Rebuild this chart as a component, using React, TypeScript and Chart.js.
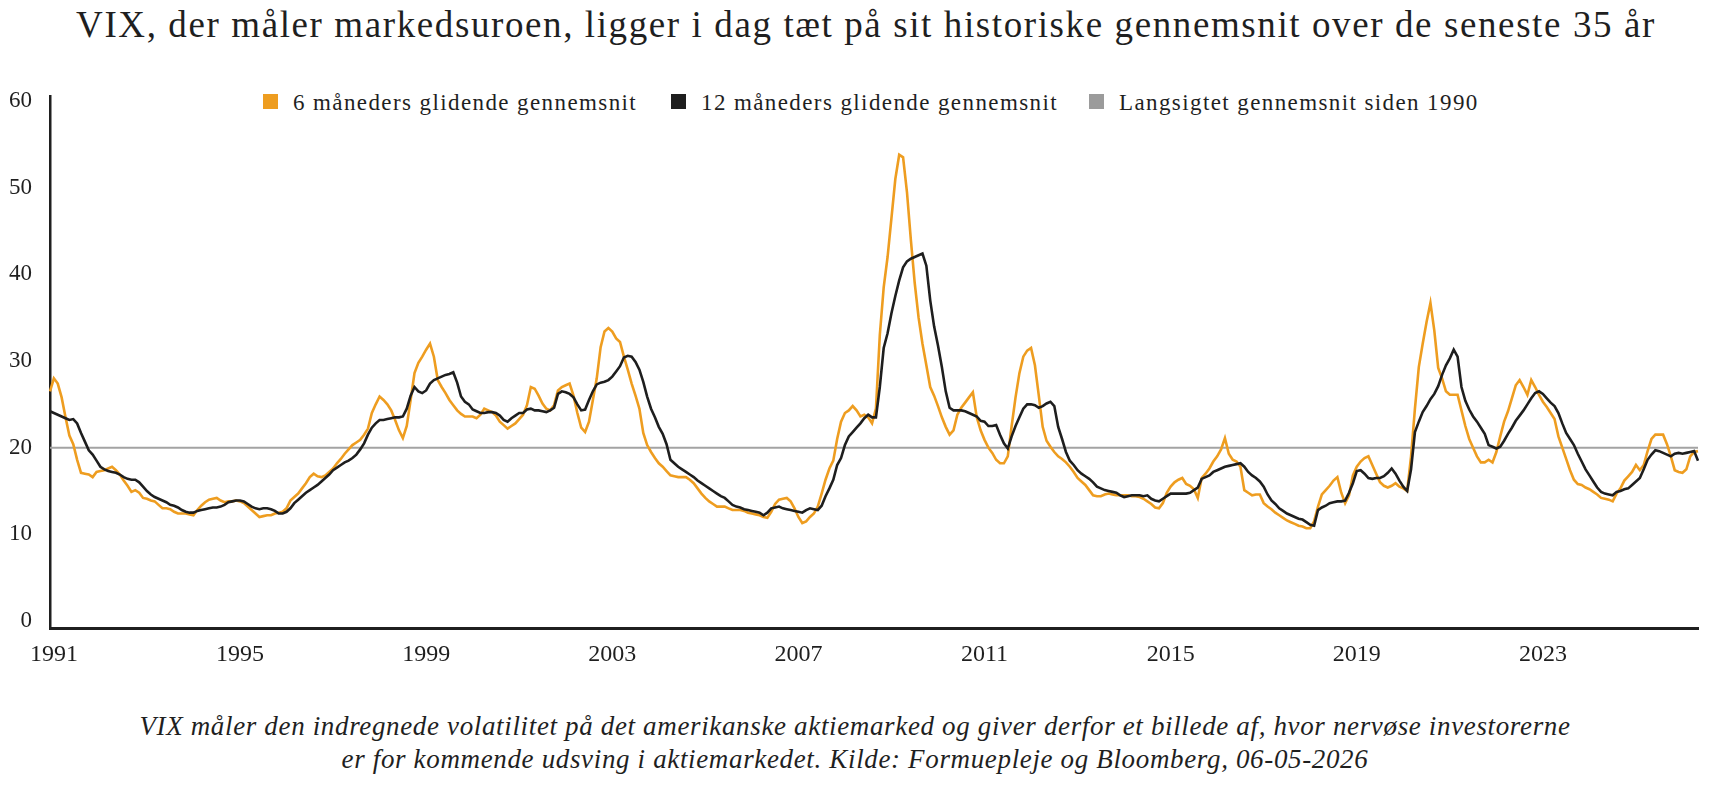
import React, { useEffect, useRef } from 'react';
import { Chart, registerables } from 'chart.js';

Chart.register(...registerables);

// Monthly observations, first point = December 1990, last = May 2026
const START_YEAR = 1990;
const START_MONTH = 12;

// 6 måneders glidende gennemsnit
const vix6: number[] = [
  26.5, 28.0, 27.4, 25.8, 23.5, 21.4, 20.4, 18.6, 17.1, 17.0, 16.9, 16.6,
  17.2, 17.3, 17.4, 17.6, 17.8, 17.4, 16.9, 16.2, 15.6, 14.9, 15.1, 14.8,
  14.2, 14.1, 13.9, 13.8, 13.4, 13.0, 13.0, 12.9, 12.6, 12.4, 12.4, 12.4,
  12.3, 12.2, 12.8, 13.3, 13.7, 14.0, 14.1, 14.2, 13.9, 13.7, 13.8, 13.8,
  13.9, 13.8, 13.6, 13.2, 12.8, 12.4, 12.0, 12.1, 12.2, 12.2, 12.4, 12.5,
  12.6, 13.0, 13.9, 14.3, 14.7, 15.3, 15.9, 16.6, 17.0, 16.7, 16.6, 16.8,
  17.2, 17.6, 18.2, 18.7, 19.3, 19.8, 20.3, 20.6, 20.9, 21.5, 22.2, 24.0,
  25.0, 25.9, 25.5, 25.0, 24.3, 23.2, 22.0, 21.1, 22.5, 25.5, 28.6, 29.8,
  30.5, 31.3, 32.0, 30.5, 27.8, 27.0, 26.3, 25.5, 24.9, 24.3, 23.9, 23.6,
  23.6, 23.6, 23.4, 23.8, 24.5, 24.3, 24.1, 23.7, 23.0, 22.6, 22.2, 22.5,
  22.8, 23.3, 23.8, 24.9, 27.0, 26.8, 26.0, 25.1, 24.5, 24.3, 24.9, 26.6,
  27.0, 27.2, 27.4, 26.0, 24.0, 22.3, 21.8, 23.0, 25.5, 28.0, 31.6, 33.4,
  33.8, 33.4, 32.6, 32.2, 30.5, 29.0, 27.4, 26.0, 24.5, 21.7, 20.3, 19.5,
  18.8, 18.2, 17.8, 17.3, 16.8, 16.7, 16.6, 16.6, 16.6, 16.3, 15.9, 15.3,
  14.7, 14.2, 13.8, 13.5, 13.2, 13.2, 13.2, 13.0, 12.8, 12.8, 12.8, 12.7,
  12.5, 12.4, 12.3, 12.2, 12.0, 11.9, 12.6, 13.5, 14.0, 14.1, 14.2, 13.8,
  13.0, 12.0, 11.3, 11.5, 12.0, 12.4, 13.2, 14.7, 16.3, 17.6, 18.5, 21.0,
  23.0, 24.0, 24.3, 24.8, 24.3, 23.6, 23.8, 23.5, 22.8, 24.5, 33.0, 38.5,
  42.0, 46.5, 51.0, 53.8, 53.5, 49.5, 44.0, 39.0, 35.0, 32.0, 29.5, 27.0,
  26.0, 24.8, 23.5, 22.4, 21.5, 22.0, 23.8, 24.6, 25.2, 25.8, 26.4, 23.5,
  22.0, 20.9, 20.0, 19.4, 18.6, 18.2, 18.2, 19.0, 22.5, 25.8, 28.6, 30.5,
  31.2, 31.5, 29.5, 26.0, 22.4, 20.8, 20.1, 19.5, 19.0, 18.7, 18.3, 17.8,
  17.2, 16.5, 16.1, 15.7, 15.1, 14.5, 14.4, 14.4, 14.6, 14.7, 14.6, 14.5,
  14.5, 14.5, 14.5, 14.4, 14.4, 14.3, 14.1, 13.8, 13.5, 13.1, 13.0, 13.6,
  14.8, 15.5, 16.0, 16.3, 16.5, 15.8, 15.6, 15.2, 14.2, 16.5, 17.0, 17.6,
  18.4, 19.0, 19.8, 21.1, 19.3, 18.6, 18.4, 17.8, 15.1, 14.8, 14.5, 14.6,
  14.6, 13.6, 13.2, 12.9, 12.5, 12.2, 11.9, 11.6, 11.4, 11.2, 11.0, 10.9,
  10.7, 10.7, 11.5, 13.2, 14.6, 15.1, 15.6, 16.2, 16.6, 14.8, 13.6, 14.5,
  16.8, 17.8, 18.4, 18.8, 19.0, 18.0, 17.0, 16.0, 15.6, 15.4, 15.6, 15.9,
  15.5, 15.3, 15.0, 19.0, 24.5, 29.3, 32.0, 34.5, 36.7, 33.5, 29.2, 28.0,
  26.5, 26.1, 26.1, 26.1, 24.3, 22.5, 21.0, 20.0, 19.0, 18.3, 18.3, 18.6,
  18.3, 19.5, 21.3, 23.0, 24.2, 25.7, 27.2, 27.8, 27.0, 26.1, 27.8, 27.0,
  26.1, 25.3, 24.7, 24.0, 23.3, 21.3, 20.0, 18.7, 17.4, 16.3, 15.8, 15.7,
  15.4, 15.2, 14.9, 14.6, 14.2, 14.1, 14.0, 13.8, 14.7, 15.3, 16.2, 16.7,
  17.2, 18.0, 17.4, 18.0, 19.6, 21.0, 21.5, 21.5, 21.5, 20.4, 19.0, 17.4,
  17.2, 17.1, 17.5, 19.0, 19.5, 19.6,
];

// 12 måneders glidende gennemsnit
const vix12: number[] = [
  24.2, 24.0, 23.8, 23.6, 23.4, 23.2, 23.3, 22.8, 21.7, 20.7, 19.7, 19.2,
  18.5, 17.8, 17.5, 17.3, 17.2, 17.1, 16.9, 16.6, 16.4, 16.3, 16.3, 16.0,
  15.5, 15.0, 14.6, 14.3, 14.1, 13.9, 13.7, 13.4, 13.3, 13.1, 12.8, 12.6,
  12.5, 12.5, 12.7, 12.8, 12.9, 13.0, 13.1, 13.1, 13.2, 13.4, 13.7, 13.8,
  13.9, 13.9, 13.8, 13.5, 13.2, 13.0, 12.9, 13.0, 13.0, 12.9, 12.7, 12.4,
  12.4, 12.6, 13.0, 13.6, 14.0, 14.4, 14.8, 15.1, 15.4, 15.7, 16.1, 16.5,
  16.9, 17.4, 17.7, 18.0, 18.3, 18.5, 18.8, 19.2, 19.8, 20.5, 21.5, 22.3,
  22.8, 23.2, 23.2, 23.3, 23.4, 23.5, 23.5, 23.6, 24.5, 26.0, 27.0, 26.5,
  26.3, 26.6, 27.4, 27.8, 28.0, 28.2, 28.4, 28.5, 28.7, 27.5, 25.9, 25.3,
  25.0, 24.4, 24.2, 24.0, 24.0, 24.1, 24.1, 24.0, 23.7, 23.2, 23.0, 23.4,
  23.7, 24.0, 24.0, 24.4, 24.5, 24.3, 24.3, 24.2, 24.1, 24.3, 24.6, 26.2,
  26.5, 26.4, 26.2, 25.8, 25.0, 24.3, 24.4, 25.5, 26.5, 27.3, 27.5, 27.6,
  27.8, 28.2, 28.8, 29.4, 30.4, 30.6, 30.5, 29.9, 29.0, 27.6, 25.9, 24.5,
  23.5, 22.4, 21.6, 20.4, 18.6, 18.2, 17.8, 17.5, 17.2, 16.9, 16.6, 16.2,
  15.9, 15.6, 15.3, 15.0, 14.7, 14.4, 14.2, 13.8, 13.4, 13.2, 13.1, 12.9,
  12.8, 12.7, 12.6, 12.5, 12.2, 12.5, 13.0, 13.1, 13.2, 13.0, 12.9, 12.8,
  12.7, 12.6, 12.5, 12.8, 13.0, 12.9, 12.8, 13.3, 14.4, 15.3, 16.3, 18.0,
  18.8, 20.3, 21.3, 21.8, 22.3, 22.8, 23.4, 23.8, 23.5, 23.5, 27.0, 31.5,
  33.2, 35.5, 37.5, 39.3, 40.8, 41.5, 41.8, 42.0, 42.2, 42.4, 41.0, 37.0,
  34.0, 31.8, 29.3, 26.5, 24.6, 24.3, 24.3, 24.3, 24.2, 24.0, 23.8, 23.6,
  23.1, 23.0, 22.5, 22.5, 22.6, 21.5, 20.5, 19.9, 21.3, 22.5, 23.5, 24.5,
  25.0, 25.0, 24.9, 24.6, 24.8, 25.1, 25.3, 24.8, 22.4, 21.0, 19.5, 18.5,
  18.0, 17.4, 17.0, 16.7, 16.4, 16.0, 15.5, 15.3, 15.1, 15.0, 14.9, 14.8,
  14.5, 14.3, 14.4, 14.5, 14.5, 14.5, 14.4, 14.5, 14.1, 13.9, 13.8, 14.1,
  14.4, 14.7, 14.7, 14.7, 14.7, 14.7, 14.8, 15.1, 15.4, 16.4, 16.6, 16.8,
  17.2, 17.4, 17.6, 17.8, 17.9, 18.0, 18.1, 18.2, 17.8, 17.2, 16.8, 16.5,
  16.1, 15.5, 14.6, 13.9, 13.5, 13.0, 12.7, 12.4, 12.2, 12.0, 11.8, 11.7,
  11.4, 11.1, 11.0, 12.8, 13.1, 13.3, 13.6, 13.7, 13.8, 13.8, 13.9, 14.8,
  15.9, 17.3, 17.4, 17.0, 16.5, 16.4, 16.5, 16.5, 16.7, 17.1, 17.6, 17.0,
  16.2, 15.5, 15.0, 17.5, 21.8, 23.0, 24.1, 24.8, 25.6, 26.2, 27.1, 28.4,
  29.5, 30.3, 31.3, 30.5, 27.0, 25.4, 24.4, 23.6, 23.0, 22.3, 21.6, 20.3,
  20.1, 19.9, 20.1, 20.8, 21.6, 22.3, 23.1, 23.7, 24.3, 25.0, 25.7, 26.3,
  26.5, 26.2, 25.7, 25.2, 24.8, 24.0, 22.8, 21.7, 21.0, 20.3, 19.3, 18.4,
  17.5, 16.8, 16.1, 15.4, 14.9, 14.7, 14.6, 14.5, 14.9, 15.0, 15.2, 15.3,
  15.7, 16.1, 16.5, 17.5, 18.6, 19.2, 19.7, 19.6, 19.4, 19.2, 19.0, 19.3,
  19.4, 19.3, 19.4, 19.5, 19.6, 18.5,
];

// Langsigtet gennemsnit siden 1990
const LONG_TERM_AVG = 20;

const seriesNames = [
  '6 måneders glidende gennemsnit',
  '12 måneders glidende gennemsnit',
  'Langsigtet gennemsnit siden 1990',
];
const yTicks = [0, 10, 20, 30, 40, 50, 60];
const xTickYears = ['1991', '1995', '1999', '2003', '2007', '2011', '2015', '2019', '2023'];

const TITLE = 'VIX, der måler markedsuroen, ligger i dag tæt på sit historiske gennemsnit over de seneste 35 år';
const CAPTION_1 = 'VIX måler den indregnede volatilitet på det amerikanske aktiemarked og giver derfor et billede af, hvor nervøse investorerne';
const CAPTION_2 = 'er for kommende udsving i aktiemarkedet. Kilde: Formuepleje og Bloomberg, 06-05-2026';

const months: string[] = vix6.map((_, i) => {
  const m = START_MONTH - 1 + i;
  const y = START_YEAR + Math.floor(m / 12);
  const mm = (m % 12) + 1;
  return `${y}-${String(mm).padStart(2, '0')}`;
});

const ORANGE = '#EE9D20';
const BLACK = '#1E1E1E';
const GRAY = '#A3A3A3';
const AXIS = '#1F1F1F';
const TEXT = '#1F1F1F';
const FONT = "'Liberation Serif', 'Times New Roman', serif";

const legendColors = [ORANGE, BLACK, '#9B9B9B'];
const legendBoxLeft = [263, 671, 1089];

export default function App() {
  const ref = useRef<HTMLCanvasElement | null>(null);

  useEffect(() => {
    if (!ref.current) return;
    const chart = new Chart(ref.current, {
      type: 'line',
      data: {
        labels: months,
        datasets: [
          {
            label: seriesNames[0],
            data: vix6,
            borderColor: ORANGE,
            backgroundColor: ORANGE,
            borderWidth: 2.6,
            pointRadius: 0,
            tension: 0,
            order: 1,
          },
          {
            label: seriesNames[1],
            data: vix12,
            borderColor: BLACK,
            backgroundColor: BLACK,
            borderWidth: 2.6,
            pointRadius: 0,
            tension: 0,
            order: 0,
          },
          {
            label: seriesNames[2],
            data: [
              { x: months[0], y: LONG_TERM_AVG },
              { x: months[months.length - 1], y: LONG_TERM_AVG },
            ],
            borderColor: GRAY,
            backgroundColor: GRAY,
            borderWidth: 2,
            pointRadius: 0,
            order: 2,
          },
        ],
      },
      options: {
        animation: false,
        responsive: false,
        devicePixelRatio: 1,
        layout: { padding: { top: 36, right: 12, bottom: 0, left: 0 } },
        plugins: {
          legend: { display: false },
          tooltip: { enabled: false },
          title: { display: false },
        },
        scales: {
          x: {
            type: 'category',
            grid: { display: false, drawTicks: false },
            border: { display: true, color: AXIS, width: 3 },
            ticks: {
              autoSkip: false,
              maxRotation: 0,
              minRotation: 0,
              padding: 12,
              color: TEXT,
              font: { family: FONT, size: 24 },
              callback: (_v: any, i: number) => {
                const [yy, mm] = months[i].split('-');
                return mm === '01' && xTickYears.includes(yy) ? yy : '';
              },
            },
            afterFit: (s: any) => {
              s.height = 52;
            },
          },
          y: {
            type: 'linear',
            min: -0.81,
            max: 60.58,
            grid: { display: false, drawTicks: false },
            border: { display: true, color: AXIS, width: 2.5 },
            ticks: {
              padding: 18,
              color: TEXT,
              font: { family: FONT, size: 23 },
            },
            afterBuildTicks: (s: any) => {
              s.ticks = yTicks.map((v) => ({ value: v }));
            },
            afterFit: (s: any) => {
              s.width = 50;
            },
          },
        },
      },
    } as any);
    return () => chart.destroy();
  }, []);

  return (
    <div
      style={{
        position: 'absolute',
        left: 0,
        top: 0,
        width: 1710,
        height: 786,
        overflow: 'hidden',
        background: '#ffffff',
        fontFamily: FONT,
        color: TEXT,
      }}
    >
      <div
        style={{
          position: 'absolute',
          left: 16,
          top: 6,
          width: 1700,
          textAlign: 'center',
          fontSize: 37,
          lineHeight: '37px',
          letterSpacing: '1.6px',
          whiteSpace: 'nowrap',
        }}
      >
        {TITLE}
      </div>

      {seriesNames.map((name, i) => (
        <React.Fragment key={name}>
          <div
            style={{
              position: 'absolute',
              left: legendBoxLeft[i],
              top: 94,
              width: 15,
              height: 15,
              background: legendColors[i],
            }}
          />
          <div
            style={{
              position: 'absolute',
              left: legendBoxLeft[i] + 30,
              top: 91,
              fontSize: 23,
              lineHeight: '23px',
              letterSpacing: '1.4px',
              whiteSpace: 'nowrap',
            }}
          >
            {name}
          </div>
        </React.Fragment>
      ))}

      <canvas
        ref={ref}
        width={1710}
        height={620}
        style={{ position: 'absolute', left: 0, top: 60, width: 1710, height: 620 }}
      />

      <div
        style={{
          position: 'absolute',
          left: 0,
          top: 710,
          width: 1710,
          textAlign: 'center',
          fontSize: 27,
          lineHeight: '33px',
          fontStyle: 'italic',
          letterSpacing: '0.65px',
          whiteSpace: 'nowrap',
        }}
      >
        <div>{CAPTION_1}</div>
        <div>{CAPTION_2}</div>
      </div>
    </div>
  );
}
